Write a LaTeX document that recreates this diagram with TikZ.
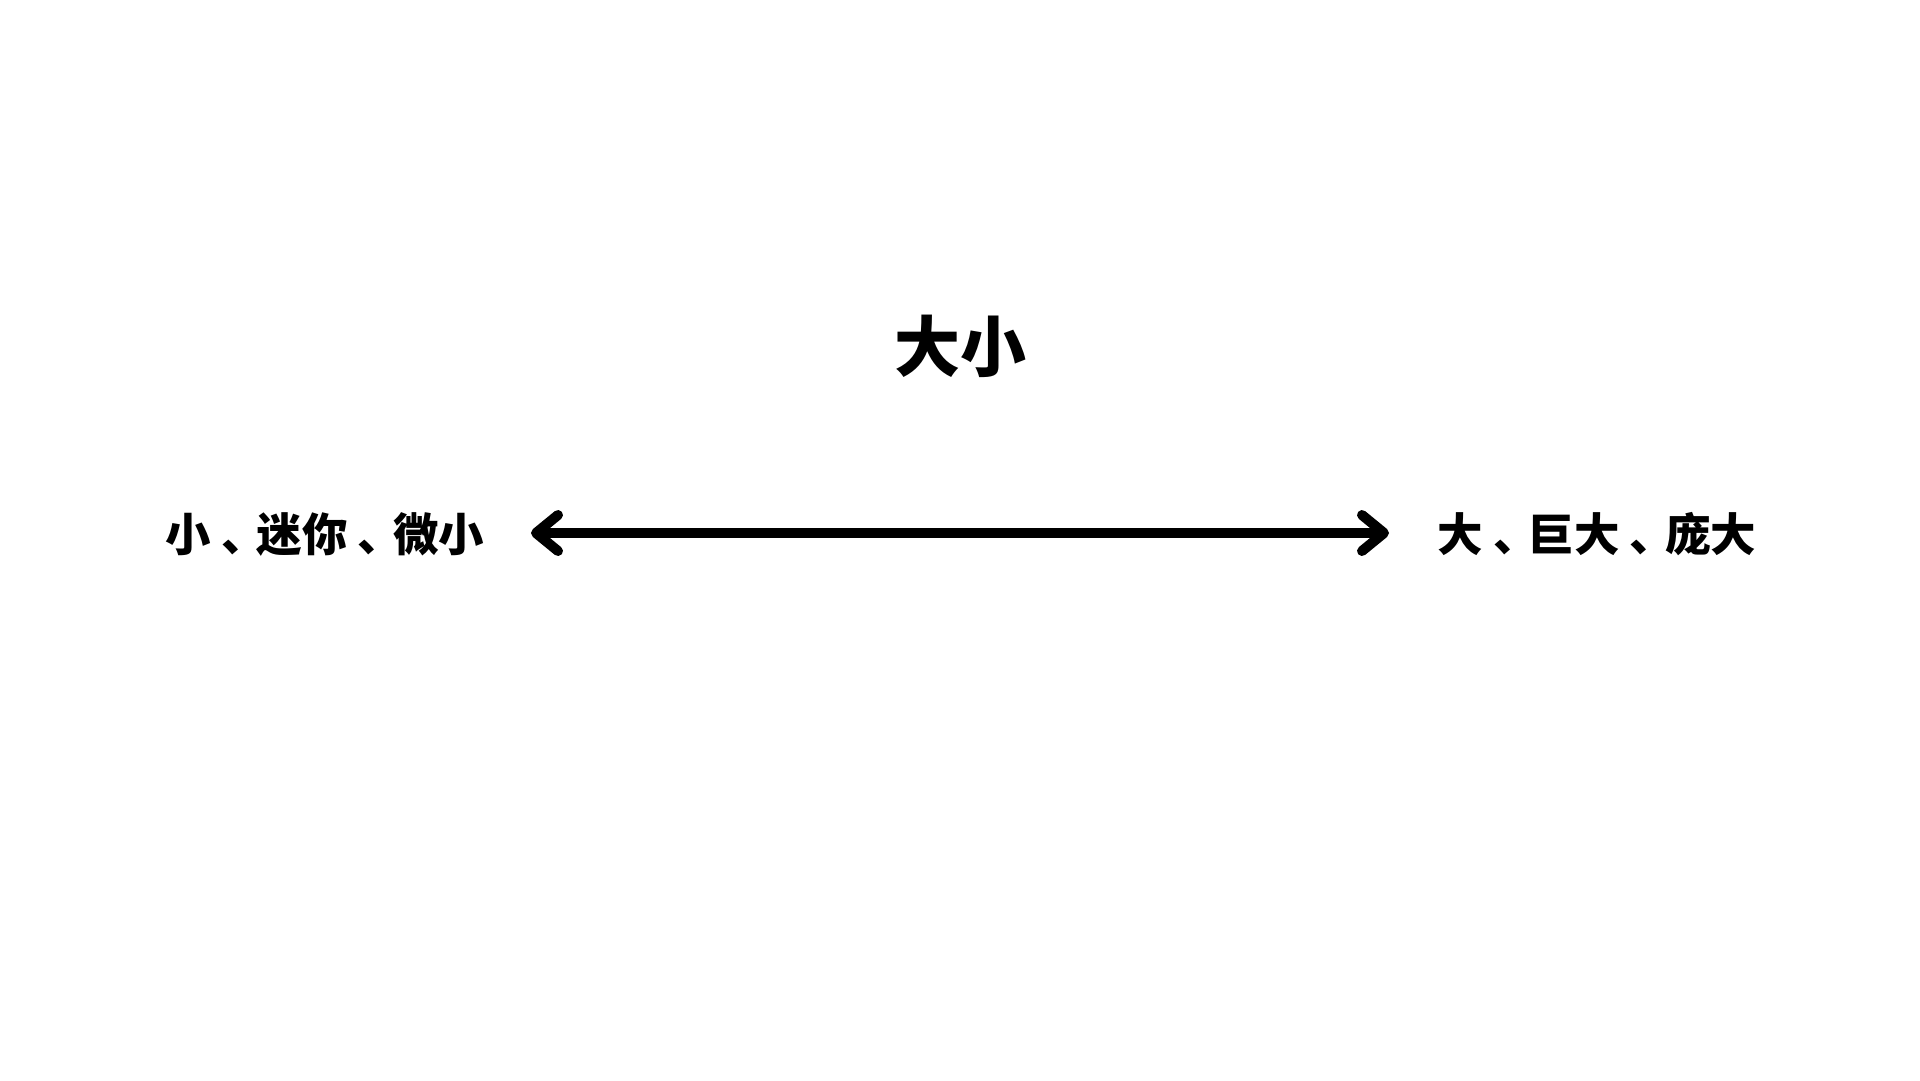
\documentclass[tikz,border=0pt]{standalone}
\usepackage{fontspec}
\setmainfont{Noto Sans CJK SC}
\usetikzlibrary{arrows.meta}
\newcommand{\dunhao}{\kern10pt 、\kern-10pt}
\tikzset{
  title/.style={inner sep=0pt, font=\bfseries\fontsize{66}{70}\selectfont},
  pole/.style={inner sep=0pt, font=\bfseries\fontsize{45.5}{50}\selectfont},
  scalearrow/.style={line width=10pt, line cap=round,
    {Straight Barb[length=22pt,width=36pt,line cap=round,line join=round]}-{Straight Barb[length=22pt,width=36pt,line cap=round,line join=round]}}
}
\begin{document}
\begin{tikzpicture}[x=1pt,y=-1pt]
  \useasboundingbox (0,0) rectangle (1920,1080);
  \node[title] (t) at (960,346) {大小};
  \node[pole] (l) at (325,534) {小\dunhao 迷你\dunhao 微小};
  \node[pole] (r) at (1597,534) {大\dunhao 巨大\dunhao 庞大};
  \coordinate (aL) at (531,533);
  \coordinate (aR) at (1389,533);
  \draw[scalearrow] (aL) -- (aR);
\end{tikzpicture}
\end{document}
